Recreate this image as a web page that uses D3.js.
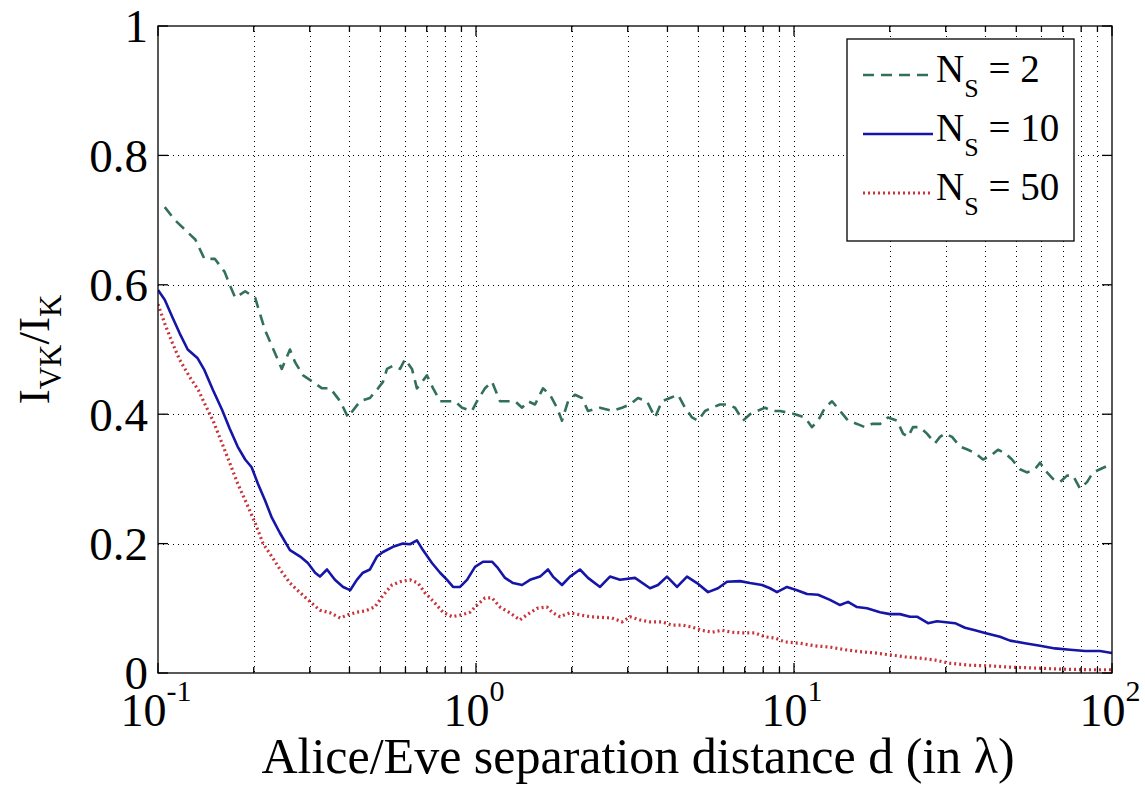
<!DOCTYPE html>
<html>
<head>
<meta charset="utf-8">
<script src="https://cdn.jsdelivr.net/npm/d3@7"></script>
<style>
  body { margin: 0; background: #fff; }
  svg { display: block; }
</style>
</head>
<body>
<div id="chart"></div>
<script>
// ---------- data ----------
const X_MAJOR = [0.1, 1, 10, 100];
const X_EXP = ["-1", "0", "1", "2"];
const Y_TICKS = [0, 0.2, 0.4, 0.6, 0.8, 1];
const Y_LABELS = ["0", "0.2", "0.4", "0.6", "0.8", "1"];

// N_S = 2
const D2 = [0.105, 0.113, 0.131, 0.140, 0.151, 0.162, 0.168, 0.175, 0.188, 0.202, 0.217, 0.233, 0.245, 0.260, 0.270, 0.286,
  0.307, 0.328, 0.348, 0.374, 0.396, 0.402, 0.432, 0.464, 0.492, 0.510, 0.525, 0.548, 0.577, 0.598, 0.629, 0.652, 0.677,
  0.701, 0.733, 0.771, 0.811, 0.859, 0.904, 0.971, 1.007, 1.067, 1.123, 1.190, 1.252, 1.327, 1.396, 1.457, 1.533, 1.624,
  1.709, 1.797, 1.864, 1.947, 2.048, 2.154, 2.250, 2.455, 2.677, 2.879, 3.050, 3.232, 3.449, 3.655, 3.845, 4.074, 4.318,
  4.543, 4.778, 4.990, 5.250, 5.523, 5.852, 6.201, 6.524, 6.912, 7.272, 7.649, 8.106, 8.525, 9.036, 10.07, 10.83, 11.39,
  11.90, 12.52, 13.17, 13.96, 14.79, 15.78, 16.72, 17.59, 18.64, 19.75, 21.09, 22.02, 22.83, 23.67, 24.90, 26.19, 27.76,
  28.78, 29.84, 31.40, 33.27, 35.26, 37.09, 39.30, 41.34, 43.81, 46.08, 48.47, 51.36, 54.03, 57.27, 59.37, 62.46, 65.23,
  68.62, 72.19, 75.40, 79.32, 83.44, 87.15, 91.68, 96.45];
const V2 = [0.72, 0.70, 0.67, 0.64, 0.64, 0.62, 0.60, 0.58, 0.59, 0.58, 0.53, 0.495, 0.47, 0.50, 0.48, 0.46,
  0.45, 0.44, 0.44, 0.42, 0.395, 0.40, 0.42, 0.425, 0.44, 0.45, 0.47, 0.475, 0.47, 0.485, 0.47, 0.44, 0.45,
  0.46, 0.44, 0.42, 0.42, 0.42, 0.41, 0.405, 0.42, 0.44, 0.45, 0.42, 0.42, 0.42, 0.41, 0.42, 0.415, 0.44,
  0.43, 0.41, 0.39, 0.42, 0.43, 0.425, 0.405, 0.41, 0.405, 0.41, 0.415, 0.425, 0.42, 0.395, 0.42, 0.425, 0.43,
  0.41, 0.395, 0.39, 0.405, 0.41, 0.415, 0.415, 0.41, 0.39, 0.40, 0.405, 0.41, 0.405, 0.405, 0.40, 0.395, 0.38,
  0.39, 0.41, 0.42, 0.405, 0.39, 0.385, 0.38, 0.385, 0.385, 0.395, 0.39, 0.37, 0.365, 0.38, 0.38, 0.37, 0.355,
  0.365, 0.37, 0.365, 0.35, 0.345, 0.34, 0.33, 0.335, 0.345, 0.34, 0.33, 0.315, 0.31, 0.315, 0.325, 0.31, 0.30,
  0.295, 0.305, 0.305, 0.285, 0.295, 0.31, 0.315, 0.32];

// N_S = 10
const D10 = [0.100, 0.105, 0.111, 0.117, 0.124, 0.133, 0.140, 0.149, 0.159, 0.168, 0.178, 0.188, 0.197, 0.206, 0.217, 0.228,
  0.242, 0.260, 0.280, 0.296, 0.312, 0.323, 0.340, 0.360, 0.382, 0.402, 0.422, 0.441, 0.464, 0.488, 0.510, 0.548, 0.589,
  0.620, 0.652, 0.681, 0.727, 0.771, 0.811, 0.847, 0.891, 0.937, 0.993, 1.052, 1.123, 1.173, 1.234, 1.308, 1.396, 1.479,
  1.590, 1.684, 1.746, 1.864, 1.975, 2.123, 2.250, 2.455, 2.638, 2.837, 3.162, 3.526, 3.735, 3.986, 4.287, 4.608, 4.955,
  5.366, 5.768, 6.156, 6.765, 7.272, 7.932, 8.406, 8.840, 9.506, 10.22, 10.99, 11.90, 12.98, 13.96, 14.79, 15.78, 16.97,
  18.64, 20.04, 21.54, 23.16, 24.37, 26.39, 28.17, 32.09, 34.49, 37.09, 39.86, 44.44, 47.79, 53.25, 59.37, 66.19, 73.80,
  82.24, 91.68, 100];
const V10 = [0.592, 0.577, 0.55, 0.525, 0.50, 0.487, 0.468, 0.437, 0.407, 0.378, 0.35, 0.33, 0.318, 0.293, 0.267, 0.24,
  0.216, 0.19, 0.18, 0.17, 0.155, 0.149, 0.16, 0.144, 0.133, 0.128, 0.144, 0.155, 0.16, 0.18, 0.187, 0.195, 0.20,
  0.199, 0.205, 0.19, 0.17, 0.155, 0.144, 0.133, 0.133, 0.144, 0.164, 0.172, 0.172, 0.162, 0.147, 0.139, 0.136, 0.144,
  0.149, 0.16, 0.149, 0.136, 0.149, 0.16, 0.147, 0.133, 0.149, 0.144, 0.147, 0.131, 0.136, 0.149, 0.133, 0.149, 0.139,
  0.125, 0.131, 0.141, 0.142, 0.139, 0.136, 0.131, 0.125, 0.133, 0.128, 0.122, 0.121, 0.113, 0.105, 0.11, 0.102, 0.10,
  0.094, 0.091, 0.091, 0.087, 0.087, 0.077, 0.08, 0.077, 0.07, 0.066, 0.062, 0.056, 0.05, 0.046, 0.042, 0.038, 0.036,
  0.034, 0.034, 0.031];

// N_S = 50
const D50 = [0.100, 0.105, 0.111, 0.117, 0.126, 0.134, 0.140, 0.149, 0.159, 0.168, 0.178, 0.190, 0.202, 0.214, 0.228, 0.242,
  0.260, 0.280, 0.301, 0.323, 0.348, 0.374, 0.396, 0.422, 0.448, 0.481, 0.510, 0.544, 0.577, 0.620, 0.657, 0.691, 0.743,
  0.787, 0.841, 0.904, 0.958, 1.007, 1.067, 1.123, 1.190, 1.279, 1.375, 1.447, 1.555, 1.672, 1.734, 1.838, 1.975, 2.123,
  2.283, 2.455, 2.677, 2.879, 3.050, 3.280, 3.526, 3.845, 4.134, 4.444, 4.778, 5.136, 5.523, 5.937, 6.383, 6.862, 7.540,
  8.106, 8.715, 9.370, 10.44, 11.64, 12.98, 14.47, 16.13, 17.98, 20.04, 22.34, 24.90, 27.76, 30.95, 35.77, 41.34, 47.79,
  55.23, 68.62, 85.27, 100];
const V50 = [0.57, 0.54, 0.51, 0.484, 0.457, 0.437, 0.417, 0.39, 0.355, 0.325, 0.293, 0.262, 0.232, 0.20, 0.18, 0.16,
  0.139, 0.124, 0.11, 0.097, 0.093, 0.085, 0.09, 0.094, 0.096, 0.102, 0.12, 0.136, 0.141, 0.144, 0.139, 0.124, 0.108,
  0.094, 0.087, 0.09, 0.094, 0.105, 0.116, 0.116, 0.102, 0.093, 0.082, 0.09, 0.10, 0.102, 0.094, 0.087, 0.093, 0.09,
  0.087, 0.086, 0.085, 0.079, 0.087, 0.082, 0.079, 0.079, 0.074, 0.074, 0.071, 0.066, 0.063, 0.066, 0.063, 0.062, 0.062,
  0.056, 0.054, 0.048, 0.046, 0.042, 0.04, 0.036, 0.033, 0.031, 0.028, 0.025, 0.023, 0.02, 0.015, 0.012, 0.011, 0.009,
  0.008, 0.006, 0.005, 0.005];

const SERIES = [
  { label: "2", d: D2, v: V2, color: "#33705a", width: 2.6, dash: "11,7" },
  { label: "10", d: D10, v: V10, color: "#1515a8", width: 2.6, dash: null },
  { label: "50", d: D50, v: V50, color: "#c8343a", width: 3.2, dash: "2,3" },
];

const FONT = "'Liberation Serif', 'Times New Roman', serif";

// ---------- layout ----------
const W = 1145, H = 787;
const m = { t: 26, r: 33, b: 114, l: 158 };
const iw = W - m.l - m.r, ih = H - m.t - m.b;

const svg = d3.select("#chart").append("svg").attr("width", W).attr("height", H).attr("font-family", FONT);
const g = svg.append("g").attr("transform", `translate(${m.l},${m.t})`);

const x = d3.scaleLog().domain([0.1, 100]).range([0, iw]);
const y = d3.scaleLinear().domain([0, 1]).range([ih, 0]);

const xMinor = [];
X_MAJOR.slice(0, -1).forEach(dec => { for (let k = 2; k <= 9; k++) xMinor.push(dec * k); });

// ---------- grid (dotted, minor log grid on x) ----------
const grid = g.append("g").attr("stroke", "#000").attr("stroke-width", 1).attr("stroke-dasharray", "1,4");
grid.selectAll("line.gx").data(xMinor.concat(X_MAJOR.slice(1, -1))).join("line").attr("class", "gx")
  .attr("x1", d => Math.round(x(d)) + 0.5).attr("x2", d => Math.round(x(d)) + 0.5).attr("y1", 0).attr("y2", ih);
grid.selectAll("line.gy").data(Y_TICKS.slice(1, -1)).join("line").attr("class", "gy")
  .attr("x1", 0).attr("x2", iw).attr("y1", d => Math.round(y(d)) + 0.5).attr("y2", d => Math.round(y(d)) + 0.5);

// ---------- curves ----------
g.append("clipPath").attr("id", "clip").append("rect").attr("width", iw).attr("height", ih);
const line = d3.line().x(p => x(p[0])).y(p => y(p[1]));
g.append("g").attr("clip-path", "url(#clip)").selectAll("path").data(SERIES).join("path")
  .attr("fill", "none").attr("stroke", s => s.color).attr("stroke-width", s => s.width)
  .attr("stroke-dasharray", s => s.dash).attr("stroke-linejoin", "round")
  .attr("d", s => line(s.d.map((d, i) => [d, s.v[i]])));

// ---------- frame + inward ticks ----------
const ax = g.append("g").attr("stroke", "#000").attr("stroke-width", 1.3);
ax.append("rect").attr("width", iw).attr("height", ih).attr("fill", "none");
const tickX = (vals, len) => {
  ax.selectAll(null).data(vals).join("line").attr("x1", d => x(d)).attr("x2", d => x(d)).attr("y1", ih).attr("y2", ih - len);
  ax.selectAll(null).data(vals).join("line").attr("x1", d => x(d)).attr("x2", d => x(d)).attr("y1", 0).attr("y2", len);
};
tickX(X_MAJOR, 10);
tickX(xMinor, 6);
ax.selectAll(null).data(Y_TICKS).join("line").attr("x1", 0).attr("x2", 10).attr("y1", d => y(d)).attr("y2", d => y(d));
ax.selectAll(null).data(Y_TICKS).join("line").attr("x1", iw).attr("x2", iw - 10).attr("y1", d => y(d)).attr("y2", d => y(d));

// ---------- tick labels ----------
g.selectAll("text.yl").data(Y_TICKS).join("text").attr("class", "yl")
  .attr("x", -10).attr("y", d => y(d)).attr("dy", "0.35em").attr("text-anchor", "end")
  .attr("font-size", 47).text((d, i) => Y_LABELS[i]);

const xl = g.selectAll("text.xl").data(X_MAJOR).join("text").attr("class", "xl")
  .attr("x", d => x(d) - 2).attr("y", ih + 53).attr("text-anchor", "middle").attr("font-size", 46);
xl.append("tspan").text("10");
xl.append("tspan").attr("dy", -25).attr("font-size", 30).text((d, i) => X_EXP[i]);

// ---------- axis titles ----------
svg.append("text").attr("x", 638).attr("y", 773).attr("text-anchor", "middle").attr("font-size", 50)
  .text("Alice/Eve separation distance d (in λ)");

const yt = svg.append("text").attr("transform", `translate(49,${m.t + y(0.5)}) rotate(-90)`)
  .attr("text-anchor", "middle").attr("font-size", 45);
yt.append("tspan").text("I");
yt.append("tspan").attr("dy", 12).attr("font-size", 31).text("VK");
yt.append("tspan").attr("dy", -12).text("/I");
yt.append("tspan").attr("dy", 12).attr("font-size", 31).text("K");

// ---------- legend ----------
const lg = svg.append("g").attr("transform", "translate(847,39)");
lg.append("rect").attr("width", 227).attr("height", 202).attr("fill", "#fff").attr("stroke", "#000").attr("stroke-width", 1.3);
const item = lg.selectAll("g.item").data(SERIES).join("g").attr("class", "item")
  .attr("transform", (s, i) => `translate(0,${36 + i * 59})`);
item.append("line").attr("x1", 16).attr("x2", 86).attr("y1", 0).attr("y2", 0)
  .attr("stroke", s => s.color).attr("stroke-width", s => s.width).attr("stroke-dasharray", s => s.dash);
const it = item.append("text").attr("x", 89).attr("y", 7).attr("font-size", 39);
it.append("tspan").text("N");
it.append("tspan").attr("dy", 15).attr("font-size", 26).text("S");
it.append("tspan").attr("dy", -15).text(s => "\u00a0= " + s.label);
</script>
</body>
</html>
